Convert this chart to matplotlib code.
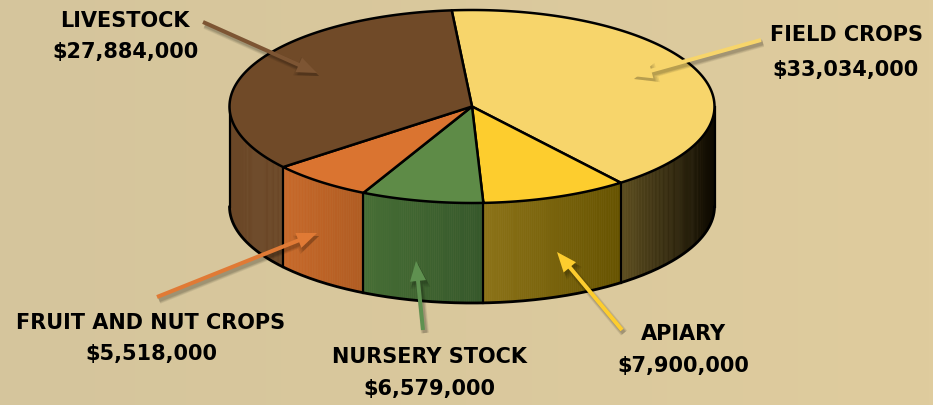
import numpy as np
import matplotlib.pyplot as plt
from matplotlib.patches import Polygon, FancyArrow
from matplotlib.colors import to_rgb, LinearSegmentedColormap

# slices, clockwise from the top
labels = ["FIELD CROPS", "APIARY", "NURSERY STOCK", "FRUIT AND NUT CROPS", "LIVESTOCK"]
values = [33034000, 7900000, 6579000, 5518000, 27884000]

top_colors = ["#f7d56b", "#fdcd2e", "#5e8b47", "#da7430", "#704a28"]
side_left = ["#5e4f20", "#8c7318", "#466e35", "#c8692a", "#6b4727"]
side_right = ["#0d0900", "#665300", "#36582b", "#b05c22", "#6b4727"]
arrow_colors = ["#f7d56b", "#fdcd2e", "#5f9150", "#e07a35", "#7d5533"]

# label placement (pixel coords) and arrows (tail -> tip)
label_pos = [(846, 35, 70), (683, 334, 366), (429, 357, 389), (151, 323, 354), (125, 21, 52)]
arrows = [((761, 40), (632, 76)), ((622, 330), (557, 252)), ((423, 330), (416, 261)),
          ((157, 297), (317, 233)), ((203, 22), (317, 73))]

# pie geometry in pixels
cx, cy, rx, ry, depth = 472, 106.5, 242.5, 96.5, 100
start = 94.8


def pt(t):
    r = np.radians(t)
    return cx + rx * np.cos(r), cy - ry * np.sin(r)


fig = plt.figure(figsize=(9.33, 4.05), dpi=100)
ax = fig.add_axes([0, 0, 1, 1])
ax.set_xlim(0, 933)
ax.set_ylim(405, 0)
ax.axis('off')

# background
bg = LinearSegmentedColormap.from_list("bg", ["#d5c59c", "#dfcc9e"])
ax.imshow(np.linspace(0, 1, 256)[None, :], cmap=bg, extent=[0, 933, 405, 0],
          aspect='auto', zorder=0)

vals = np.array(values, dtype=float)
spans = 360 * vals / vals.sum()
bounds = start - np.concatenate([[0], np.cumsum(spans)])

# side walls (front half only)
for i in range(len(values)):
    lo = max(bounds[i + 1], -180)
    hi = min(bounds[i], 0)
    if lo >= hi:
        continue
    x_lo, x_hi = pt(lo)[0], pt(hi)[0]
    c1, c2 = np.array(to_rgb(side_left[i])), np.array(to_rgb(side_right[i]))
    ts = np.linspace(lo, hi, max(int((hi - lo) / 0.5), 2) + 1)
    for a, b in zip(ts[:-1], ts[1:]):
        xa, ya = pt(a)
        xb, yb = pt(b)
        f = ((xa + xb) / 2 - x_lo) / (x_hi - x_lo)
        col = c1 * (1 - f) + c2 * f
        ax.add_patch(Polygon([(xa, ya), (xb, yb), (xb, yb + depth), (xa, ya + depth)],
                             closed=True, facecolor=col, edgecolor=col, lw=0.4, zorder=2))

# side outlines
tt = np.linspace(-180, 0, 200)
bx, by = pt(tt)
ax.plot(bx, by + depth, color='black', lw=2, zorder=3, solid_capstyle='round')
for t in [-180, 0] + [b for b in bounds if -180 < b < 0]:
    x, y = pt(t)
    ax.plot([x, x], [y, y + depth], color='black', lw=1.6, zorder=3)

# top faces
for i in range(len(values)):
    ts = np.linspace(bounds[i], bounds[i + 1], 150)
    xs, ys = pt(ts)
    poly = [(cx, cy)] + list(zip(xs, ys))
    ax.add_patch(Polygon(poly, closed=True, facecolor=top_colors[i], edgecolor='black',
                         lw=1.8, joinstyle='round', zorder=4))

# arrows with soft shadow
for (tail, tip), col in zip(arrows, arrow_colors):
    dx, dy = tip[0] - tail[0], tip[1] - tail[1]
    for grow in [4, 2.5, 1, 0]:
        ax.add_patch(FancyArrow(tail[0] + 2, tail[1] + 3, dx, dy, width=4 + grow,
                                head_width=16 + grow, head_length=20 + grow,
                                length_includes_head=True, color='black', alpha=0.07,
                                lw=0, zorder=5))
    ax.add_patch(FancyArrow(tail[0], tail[1], dx, dy, width=4, head_width=16,
                            head_length=20, length_includes_head=True, color=col,
                            lw=0, zorder=6))

# labels
for lab, v, (x, y1, y2) in zip(labels, values, label_pos):
    ax.text(x, y1, lab, ha='center', va='center', fontsize=15, fontweight='bold',
            color='black', zorder=7)
    ax.text(x, y2, f"${v:,}", ha='center', va='center', fontsize=15, fontweight='bold',
            color='black', zorder=7)

fig.savefig("out.png", dpi=100)
